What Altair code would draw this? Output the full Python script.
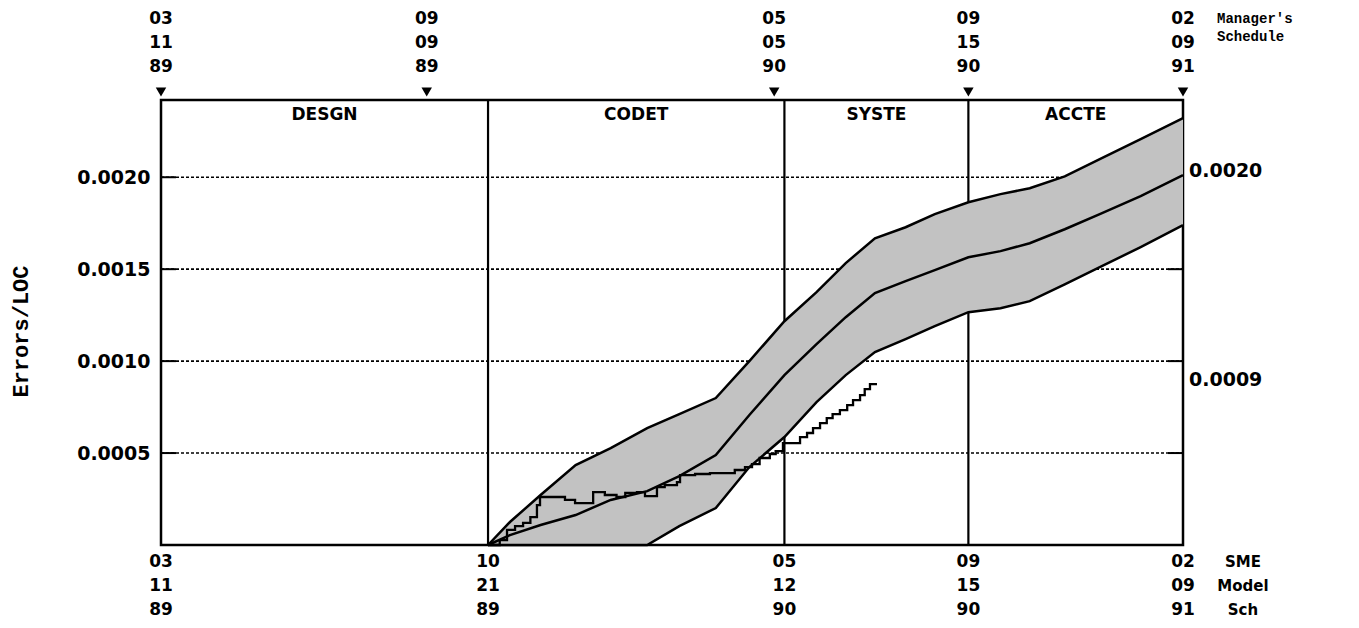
import altair as alt
import pandas as pd

# ---------------- data ----------------
# x is days since 03/11/89 (the chart spans 03/11/89 .. 02/09/91 = 700 days)
grid_values = [0.0005, 0.0010, 0.0015, 0.0020]

phase_names = ["DESGN", "CODET", "SYSTE", "ACCTE"]
phase_bounds = [0, 224, 427, 553, 700]          # 03/11/89, 10/21/89, 05/12/90, 09/15/90, 02/09/91

mgr_days = [0, 182, 420, 553, 700]
mgr_labels = ["03\n11\n89", "09\n09\n89", "05\n05\n90", "09\n15\n90", "02\n09\n91"]

sme_days = [0, 224, 427, 553, 700]
sme_labels = ["03\n11\n89", "10\n21\n89", "05\n12\n90", "09\n15\n90", "02\n09\n91"]

band_days = [224, 239, 260, 284, 308, 333, 355, 380, 403, 427, 449, 469,
             489, 510, 530, 553, 575, 595, 619, 643, 671, 700]
band_upper = [0.0, 0.000125, 0.000272, 0.000435, 0.000527, 0.000636, 0.000712,
              0.000799, 0.001000, 0.001217, 0.001375, 0.001533, 0.001668,
              0.001728, 0.001799, 0.001864, 0.001908, 0.001940, 0.002005,
              0.002098, 0.002207, 0.002321]
band_mid = [0.0, 0.000054, 0.000109, 0.000163, 0.000245, 0.000293, 0.000375,
            0.000489, 0.000707, 0.000924, 0.001092, 0.001239, 0.001370,
            0.001435, 0.001495, 0.001565, 0.001598, 0.001641, 0.001717,
            0.001799, 0.001897, 0.002011]
band_lower = [0.0, 0.0, 0.0, 0.0, 0.0, 0.0, 0.000103, 0.000201, 0.000424,
              0.000587, 0.000777, 0.000924, 0.001049, 0.001120, 0.001190,
              0.001266, 0.001288, 0.001326, 0.001418, 0.001511, 0.001620,
              0.001739]

actual_days = [224, 232, 237, 242.5, 248, 253, 257.5, 259.6, 268, 276.7, 283.6,
               292.5, 296, 304, 312, 318, 326, 331.5, 336, 339.7, 345, 353.4,
               355.5, 365.8, 376, 387.7, 393, 400, 404.8, 410, 417, 421, 426,
               437.7, 442.5, 446.6, 451.4, 456, 460, 465, 470, 474, 478.8, 482,
               485.6, 490.4]
actual_values = [0.0, 0.000027, 0.000082, 0.000103, 0.000120, 0.000152,
                 0.000217, 0.000261, 0.000261, 0.000245, 0.000228, 0.000228,
                 0.000288, 0.000272, 0.000261, 0.000283, 0.000288, 0.000266,
                 0.000266, 0.000315, 0.000326, 0.000342, 0.000380, 0.000386,
                 0.000391, 0.000391, 0.000408, 0.000424, 0.000440, 0.000473,
                 0.000495, 0.000511, 0.000554, 0.000587, 0.000609, 0.000636,
                 0.000663, 0.000690, 0.000712, 0.000734, 0.000761, 0.000788,
                 0.000815, 0.000848, 0.000875, 0.000875]

# ---------------- layout ----------------
W, H = 1022, 445
x_scale = alt.Scale(domain=[0, 700], nice=False, zero=False)
y_scale = alt.Scale(domain=[0, 0.00242], nice=False)
SANS = "DejaVu Sans"
MONO = "Liberation Mono"

yax = alt.Axis(values=grid_values, format=".4f", title="Errors/LOC",
               ticks=False, domain=False, grid=False,
               labelFont=SANS, labelFontWeight="bold",
               labelFontSize=19, labelColor="black", labelPadding=11,
               titleFont=MONO, titleFontWeight="bold",
               titleFontSize=22, titleColor="black",
               titleX=-141, titleY=231, titleAlign="center",
               titleBaseline="middle")


def Y(field):
    return alt.Y(f"{field}:Q", scale=y_scale, axis=yax)


def X(field="d"):
    return alt.X(f"{field}:Q", scale=x_scale, axis=None)


grid_df = pd.DataFrame({"v": grid_values})
band_df = pd.DataFrame({"d": band_days, "upper": band_upper,
                        "mid": band_mid, "lower": band_lower})
actual_df = pd.DataFrame({"d": actual_days, "v": actual_values})
bounds_df = pd.DataFrame({"d": phase_bounds[1:-1]})
phase_df = pd.DataFrame({
    "d": [(phase_bounds[i] + phase_bounds[i + 1]) / 2 for i in range(4)],
    "name": phase_names})
mgr_df = pd.DataFrame({"d": mgr_days, "t": mgr_labels})
sme_df = pd.DataFrame({"d": sme_days, "t": sme_labels})
end_df = pd.DataFrame({"v": [band_mid[-1], actual_values[-1]]})

grid = alt.Chart(grid_df).mark_rule(
    color="black", strokeWidth=1.6, strokeDash=[3, 2]
).encode(y=Y("v"), x=alt.value(0), x2=alt.value(W))

grid_end_l = alt.Chart(grid_df).mark_rule(color="black", strokeWidth=2).encode(
    y=Y("v"), x=alt.value(0), x2=alt.value(15))
grid_end_r = alt.Chart(grid_df).mark_rule(color="black", strokeWidth=2).encode(
    y=Y("v"), x=alt.value(W - 15), x2=alt.value(W))

phase_lines = alt.Chart(bounds_df).mark_rule(color="black", strokeWidth=2.2).encode(
    x=X(), y=alt.value(0), y2=alt.value(H))

band = alt.Chart(band_df).mark_area(color="#c2c2c2", opacity=1).encode(
    x=X(), y=Y("upper"), y2="lower:Q")

band_lines = alt.Chart(band_df).transform_fold(
    ["upper", "mid", "lower"], as_=["k", "v"]
).mark_line(color="black", strokeWidth=2.5).encode(
    x=X(), y=Y("v"), detail="k:N")

actual = alt.Chart(actual_df).mark_line(
    color="black", strokeWidth=2.3, interpolate="step-after"
).encode(x=X(), y=Y("v"))

phase_text = alt.Chart(phase_df).mark_text(
    font=SANS, fontWeight="bold", fontSize=17, color="black", baseline="middle"
).encode(x=X(), y=alt.value(15), text="name:N")

triangles = alt.Chart(mgr_df).mark_point(
    shape="triangle-down", filled=True, color="black", opacity=1, size=110
).encode(x=X(), y=alt.value(-8))

mgr_text = alt.Chart(mgr_df).mark_text(
    font=SANS, fontWeight="bold", fontSize=17, color="black",
    baseline="top", lineBreak="\n", lineHeight=24
).encode(x=X(), y=alt.value(-89), text="t:N")

sme_text = alt.Chart(sme_df).mark_text(
    font=SANS, fontWeight="bold", fontSize=17, color="black",
    baseline="top", lineBreak="\n", lineHeight=24
).encode(x=X(), y=alt.value(454), text="t:N")

mgr_title = alt.Chart(pd.DataFrame({"t": ["Manager's\nSchedule"]})).mark_text(
    font=MONO, fontWeight="bold", fontSize=14, color="black", align="left",
    baseline="top", lineBreak="\n", lineHeight=18
).encode(x=alt.value(1056), y=alt.value(-88), text="t:N")

sme_title = alt.Chart(pd.DataFrame({"t": ["SME\nModel\nSch"]})).mark_text(
    font=SANS, fontWeight="bold", fontSize=15, color="black", align="center",
    baseline="top", lineBreak="\n", lineHeight=24
).encode(x=alt.value(1082), y=alt.value(455), text="t:N")

end_text = alt.Chart(end_df).mark_text(
    font=SANS, fontWeight="bold", fontSize=19, color="black", align="left",
    baseline="middle", dx=6, dy=-4
).encode(x=alt.value(W), y=Y("v"), text=alt.Text("v:Q", format=".4f"))

chart = alt.layer(
    grid, grid_end_l, grid_end_r, phase_lines, band, band_lines, actual,
    phase_text, triangles, mgr_text, sme_text, mgr_title, sme_title, end_text
).properties(
    width=W, height=H,
    autosize=alt.AutoSizeParams(type="none"),
    padding={"left": 153, "top": 92, "right": 150, "bottom": 74},
    background="white",
).configure_view(stroke="black", strokeWidth=2.5)

chart.save("out.html", embed_options={"renderer": "svg", "actions": False})
